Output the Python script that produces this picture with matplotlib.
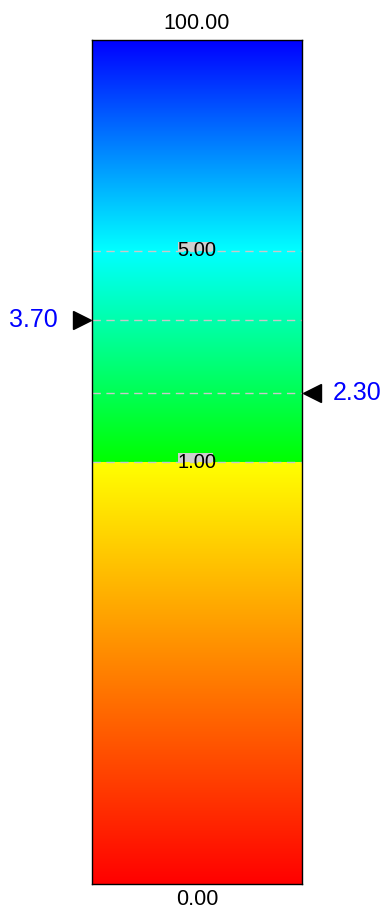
import matplotlib.pyplot as plt
import numpy as np
from matplotlib.colors import LinearSegmentedColormap
from matplotlib.patches import Rectangle
from matplotlib.transforms import blended_transform_factory

# scale stops and where each sits along the bar (piecewise linear)
stops = [0.0, 1.0, 5.0, 100.0]
stop_pos = [0.0, 0.5, 0.75, 1.0]
seg_colors = [('#ff0000', '#ffff00'), ('#00ff00', '#00ffff'), ('#00ffff', '#0000ff')]
inner_labels = [5.0, 1.0]
left_marks = [3.70]
right_marks = [2.30]


def fwd(v):
    return np.interp(v, stops, stop_pos)


def inv(p):
    return np.interp(p, stop_pos, stops)


plt.rcParams['font.family'] = ['Liberation Sans', 'DejaVu Sans']

fig = plt.figure(figsize=(3.87, 9.15), dpi=100)
ax = fig.add_axes([92 / 387, 31 / 915, 210 / 387, 844 / 915])
ax.set_yscale('function', functions=(fwd, inv))
ax.set_xlim(0, 1)
ax.set_ylim(stops[0], stops[-1])

# gradient segments
for i, (c0, c1) in enumerate(seg_colors):
    lo, hi = stops[i], stops[i + 1]
    ys = np.linspace(lo, hi, 257)
    cm = LinearSegmentedColormap.from_list('seg%d' % i, [c0, c1])
    vals = ((ys[:-1] + ys[1:]) / 2).reshape(-1, 1)
    ax.pcolormesh([0, 1], ys, vals, cmap=cm, vmin=lo, vmax=hi, shading='flat')

trans = blended_transform_factory(ax.transAxes, ax.transData)

# dashed guide lines
for v in inner_labels + left_marks + right_marks:
    ax.axhline(v, color='#c8c8c8', lw=1, ls=(0, (6, 4)), zorder=3)

# inner boundary labels with grey patch above the line
for v in inner_labels:
    top = inv(fwd(v) + 9 / 844)
    ax.add_patch(Rectangle((0.41, v), 0.165, top - v, transform=trans,
                           facecolor='#cfcfcf', edgecolor='none', zorder=3))
    ax.text(0.5, v, '%.2f' % v, transform=trans, ha='center', va='center',
            fontsize=14.5, color='black', zorder=4)

# end labels
ax.annotate('%.2f' % stops[-1], (0.5, stops[-1]), xycoords=trans,
            xytext=(0, 12), textcoords='offset points', ha='center', va='center',
            fontsize=15.5, color='black', annotation_clip=False)
ax.annotate('%.2f' % stops[0], (0.5, stops[0]), xycoords=trans,
            xytext=(0, -11.5), textcoords='offset points', ha='center', va='center',
            fontsize=15.5, color='black', annotation_clip=False)

# markers
for v in left_marks:
    ax.plot([-0.05], [v], marker='>', ms=12.5, color='black', transform=trans,
            clip_on=False, zorder=5)
    ax.annotate('%.2f' % v, (0, v), xycoords=trans, xytext=(-24.5, 0),
                textcoords='offset points', ha='right', va='center',
                fontsize=18, color='#0000ff', annotation_clip=False)
for v in right_marks:
    ax.plot([1.048], [v], marker='<', ms=12.5, color='black', transform=trans,
            clip_on=False, zorder=5)
    ax.annotate('%.2f' % v, (1, v), xycoords=trans, xytext=(22, 0),
                textcoords='offset points', ha='left', va='center',
                fontsize=18, color='#0000ff', annotation_clip=False)

ax.set_xticks([])
ax.set_yticks([])
ax.minorticks_off()
for s in ax.spines.values():
    s.set_color('black')
    s.set_linewidth(1)
    s.set_zorder(6)

fig.savefig('out.png', dpi=100)
